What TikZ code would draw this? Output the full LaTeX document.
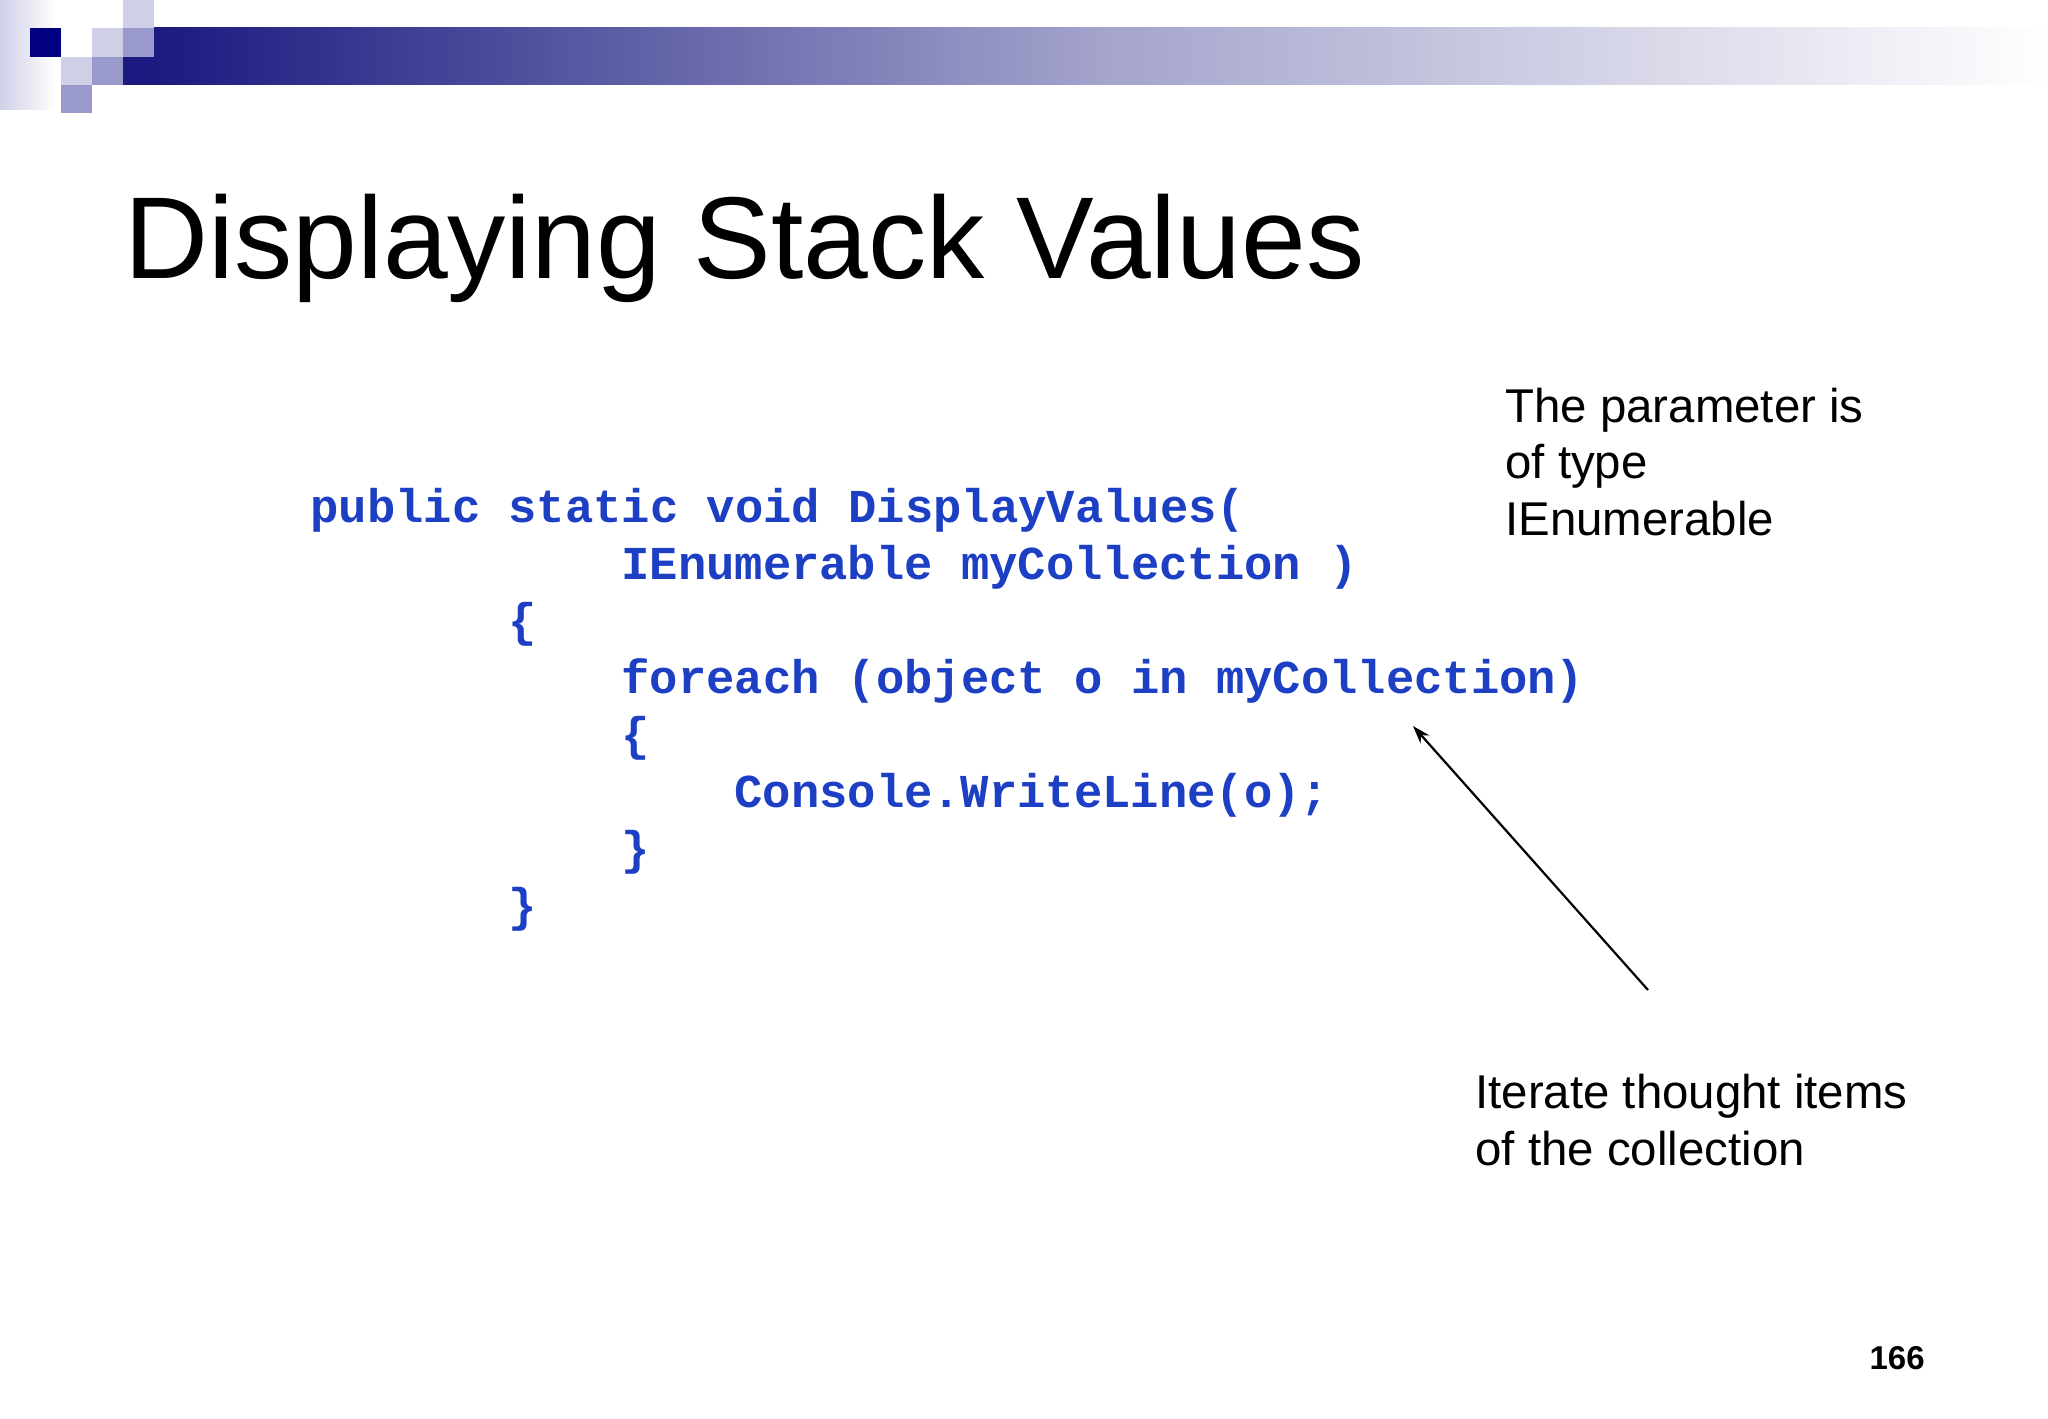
\documentclass[tikz,border=0pt]{standalone}
\usepackage{fontspec}
\usetikzlibrary{arrows.meta}
\setmainfont{Liberation Sans}
\newfontfamily\codefont{Liberation Mono}
\definecolor{navy}{HTML}{000080}
\definecolor{lav}{HTML}{CFCFE8}
\definecolor{mlav}{HTML}{9999CC}
\definecolor{barc}{HTML}{1A1A80}
\definecolor{codeblue}{HTML}{1C3FC4}
\begin{document}
\begin{tikzpicture}[x=0.5pt,y=-0.5pt,
  code/.style={anchor=base west,inner sep=0,font=\codefont\bfseries\fontsize{23.6pt}{28pt}\selectfont,text=codeblue},
  note/.style={anchor=base west,inner sep=0,font=\fontsize{23.7pt}{28.2pt}\selectfont,align=left}]
\useasboundingbox[fill=white] (0,0) rectangle (2048,1418);
% decoration
\shade[left color=lav,right color=white] (0,0) rectangle (55,110);
\fill[lav] (123,0) rectangle (154,28);
\fill[navy] (30,28) rectangle (61,57);
\fill[lav] (92,28) rectangle (123,57);
\fill[mlav] (123,28) rectangle (154,57);
\fill[lav] (61,57) rectangle (92,85);
\fill[mlav] (92,57) rectangle (123,85);
\fill[mlav] (61,85) rectangle (92,113);
\fill[barc] (123,57) rectangle (154,85);
\shade[left color=barc,right color=white,middle color=barc!40] (154,28) rectangle (2048,85);
% title
\node[anchor=base west,inner sep=0,font=\fontsize{58.2pt}{66pt}\selectfont] (title) at (124,278) {Displaying Stack Values};
% code
\node[code] (c1) at (310,522) {public static void DisplayValues(};
\node[code] (c2) at (621,579) {IEnumerable myCollection )};
\node[code] (c3) at (508,636) {\{};
\node[code] (c4) at (621,693) {foreach (object o in myCollection)};
\node[code] (c5) at (621,750) {\{};
\node[code] (c6) at (734,807) {Console.WriteLine(o);};
\node[code] (c7) at (621,864) {\}};
\node[code] (c8) at (508,921) {\}};
% notes
\node[note] (n1) at (1505,535) {The parameter is\\of type\\IEnumerable};
\node[note] (n2) at (1475,1165) {Iterate thought items\\of the collection};
\coordinate (a0) at (1648,990);
\coordinate (a1) at (1413,726);
\draw[-{Stealth[length=9pt,width=6pt]},line width=1.1pt] (a0) -- (a1);
\node[anchor=base east,inner sep=0,font=\bfseries\fontsize{16.5pt}{20pt}\selectfont] (pg) at (1925,1369) {166};
\end{tikzpicture}
\end{document}
